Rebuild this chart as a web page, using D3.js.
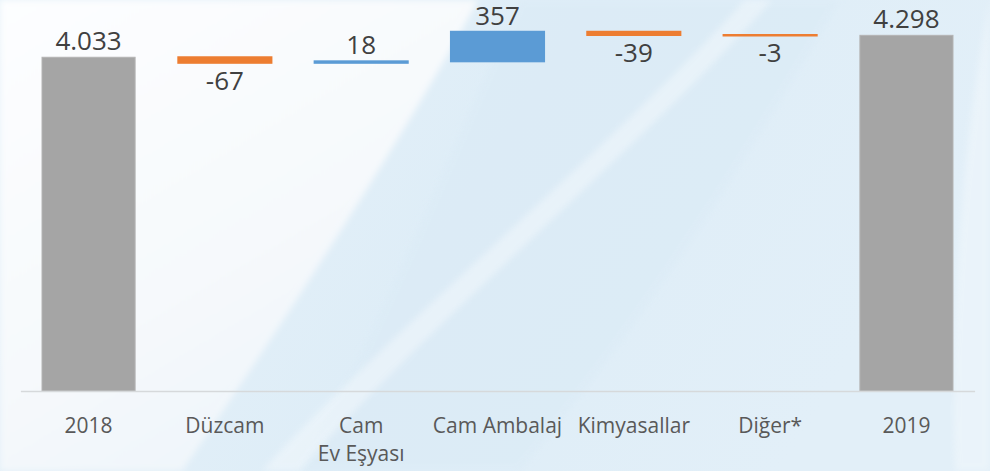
<!DOCTYPE html>
<html lang="tr">
<head>
<meta charset="utf-8">
<script src="https://cdn.jsdelivr.net/npm/d3@7"></script>
<style>
  html, body { margin: 0; padding: 0; background: #f4f9fc; }
  svg { display: block; }
  text { font-family: "Open Sans", "DejaVu Sans", sans-serif; }
</style>
</head>
<body>
<div id="chart"></div>
<script>
// Net satışlar köprüsü, 2018 → 2019 (milyon TL)
const categories = ["2018", "Düzcam", "Cam\nEv Eşyası", "Cam Ambalaj", "Kimyasallar", "Diğer*", "2019"];
const values     = [4033, -67, 18, 357, -39, -3, 4298];
const barKinds   = ["total", "delta", "delta", "delta", "delta", "delta", "total"];

const W = 990, H = 471;
const colors = { total: "#a5a5a5", up: "#5b9bd5", down: "#ed7d31" };

const trLocale = d3.formatLocale({ decimal: ",", thousands: ".", grouping: [3], currency: ["", " TL"], minus: "-" });
const fmt = trLocale.format(",d");

// Build the floating segments of the waterfall
let running = 0;
const bars = categories.map((c, i) => {
  const v = values[i];
  let y0, y1, kind;
  if (barKinds[i] === "total") {
    y0 = 0; y1 = v; kind = "total"; running = v;
  } else {
    y0 = running; y1 = running + v; kind = v >= 0 ? "up" : "down"; running += v;
  }
  return { cat: c, value: v, lo: Math.min(y0, y1), hi: Math.max(y0, y1), kind };
});

const svg = d3.select("#chart").append("svg")
  .attr("width", W).attr("height", H).attr("viewBox", `0 0 ${W} ${H}`);

// ---- background: pale blue slide with soft white sweeps ----
const defs = svg.append("defs");
const bg = defs.append("linearGradient").attr("id", "bg").attr("x1", "0").attr("y1", "0").attr("x2", "1").attr("y2", "0.3");
bg.append("stop").attr("offset", "0").attr("stop-color", "#e9f3fa");
bg.append("stop").attr("offset", "0.55").attr("stop-color", "#deedf7");
bg.append("stop").attr("offset", "1").attr("stop-color", "#e2eff8");

const sweep = defs.append("linearGradient").attr("id", "sweep").attr("x1", "0").attr("y1", "0").attr("x2", "0.6").attr("y2", "1");
sweep.append("stop").attr("offset", "0").attr("stop-color", "#fdfeff");
sweep.append("stop").attr("offset", "0.6").attr("stop-color", "#f6f9fc");
sweep.append("stop").attr("offset", "1").attr("stop-color", "#eef5fa");

const blur = defs.append("filter").attr("id", "soft").attr("x", "-10%").attr("y", "-10%").attr("width", "120%").attr("height", "120%");
blur.append("feGaussianBlur").attr("stdDeviation", 3);

svg.append("rect").attr("width", W).attr("height", H).attr("fill", "url(#bg)");

// broad blue wash in the middle
svg.append("path")
  .attr("d", "M520,0 L840,0 C 760,140 640,330 520,471 L300,471 C 380,330 450,150 520,0 Z")
  .attr("fill", "#dbebf6").attr("opacity", 0.6).attr("filter", "url(#soft)");

// thin light streak running down-left
svg.append("path")
  .attr("d", "M745,0 L772,0 C 640,150 420,330 300,471 L262,471 C 390,330 610,150 745,0 Z")
  .attr("fill", "#ffffff").attr("opacity", 0.35).attr("filter", "url(#soft)");

// lighter edge at the right
svg.append("path")
  .attr("d", "M990,0 L990,471 L955,471 C 950,330 960,150 990,0 Z")
  .attr("fill", "#ffffff").attr("opacity", 0.3).attr("filter", "url(#soft)");

// white sweep on the left
svg.append("path")
  .attr("d", "M0,0 L478,0 C 430,90 320,270 182,471 L0,471 Z")
  .attr("fill", "url(#sweep)").attr("filter", "url(#soft)");

// ---- scales ----
const x = d3.scaleBand()
  .domain(categories)
  .range([20.4, 974.6])
  .paddingInner(0.317)
  .paddingOuter(0.1585);

const y = d3.scaleLinear().domain([0, 4725]).range([391, 0]);

// ---- bars ----
svg.append("g").selectAll("rect")
  .data(bars)
  .join("rect")
  .attr("x", d => x(d.cat))
  .attr("width", x.bandwidth())
  .attr("y", d => y(d.hi))
  .attr("height", d => Math.max(0.5, y(d.lo) - y(d.hi)))
  .attr("fill", d => colors[d.kind])
  .attr("stroke", d => d.kind === "total" ? "#b4b4b4" : colors[d.kind])
  .attr("stroke-width", d => d.kind === "total" ? 1 : 2);

// ---- x axis ----
const xAxis = svg.append("g")
  .attr("transform", `translate(0,${y(0)})`)
  .call(d3.axisBottom(x).tickSize(0).tickFormat(""));
xAxis.select(".domain").attr("stroke", "#d6d9db").attr("stroke-width", 1.6);

xAxis.selectAll(".tick").each(function (d) {
  const lines = d.split("\n");
  const t = d3.select(this).append("text")
    .attr("fill", "#595959")
    .attr("font-size", 21)
    .attr("text-anchor", "middle");
  lines.forEach((ln, k) => {
    t.append("tspan").attr("x", 0).attr("y", 42 + k * 27.5).text(ln);
  });
});

// ---- value labels ----
svg.append("g").selectAll("text")
  .data(bars)
  .join("text")
  .attr("x", d => x(d.cat) + x.bandwidth() / 2)
  .attr("y", d => d.value >= 0 ? y(d.hi) - 7 : y(d.lo) + 27)
  .attr("text-anchor", "middle")
  .attr("font-size", 26)
  .attr("fill", "#404040")
  .text(d => fmt(d.value));
</script>
</body>
</html>
